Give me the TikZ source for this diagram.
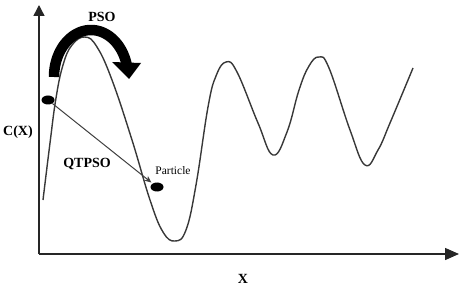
\documentclass[tikz,border=0pt]{standalone}
\usepackage{fontspec}
\setmainfont{Liberation Serif}
\usetikzlibrary{arrows.meta,shapes.geometric}
\tikzset{
  axisline/.style={line width=1.4pt, draw=black!85},
  curveline/.style={line width=1.4pt, draw=black!78, line join=round},
  boldlbl/.style={font=\fontsize{14}{16}\selectfont\bfseries, inner sep=0pt},
  smalllbl/.style={font=\fontsize{11.5}{13}\selectfont, inner sep=0pt},
  particle/.style={ellipse, fill=black, draw=none, minimum width=13pt, minimum height=9pt, inner sep=0pt},
  link/.style={line width=1pt, draw=black!75, -{Stealth[length=7pt,width=6pt]}, shorten >=1.5pt},
  psoband/.style={line width=10.5pt, draw=black, line join=round}
}
\begin{document}
\begin{tikzpicture}[x=1pt,y=-1pt]
\useasboundingbox (0,0) rectangle (462,288);
% axes
\coordinate (O) at (39,254);
\coordinate (ytop) at (39,5);
\coordinate (xend) at (459,254);
\draw[axisline, -{Triangle[length=11pt,width=11pt]}] (O) -- (ytop);
\draw[axisline, -{Triangle[length=14pt,width=12pt]}] (O) -- (xend);
% function curve
\draw[curveline] plot[smooth, tension=0.7] coordinates {
 (43,200) (50,143) (56,98) (63,65) (72,45) (85,37) (97,47) (112,80)
 (132,140) (150,200) (163,232) (175,241) (186,230) (196,185) (208,107)
 (216,76) (226,62) (237,72) (258,123) (273,155) (287,132) (299,90)
 (309,66) (319,57) (329,68) (350,130) (365,165) (378,150) (390,123) (413,68)};
% PSO curved arrow
\draw[psoband] plot[domain=180:12, samples=60] ({91+37*cos(\x)},{77-47*sin(\x)});
\fill[black] (112,62) -- (141,63) -- (129,79) -- cycle;
% labels
\node[boldlbl] (pso) at (102,17) {PSO};
\node[boldlbl] (qtpso) at (87,164) {QTPSO};
\node[boldlbl] (cx) at (18,132) {C(X)};
\node[boldlbl] (xl) at (243,279) {X};
\node[smalllbl] (plabel) at (173,171) {Particle};
% particles
\node[particle] (p1) at (48,100) {};
\node[particle] (p2) at (157,187) {};
\draw[link] (p1) -- (p2);
\end{tikzpicture}
\end{document}
